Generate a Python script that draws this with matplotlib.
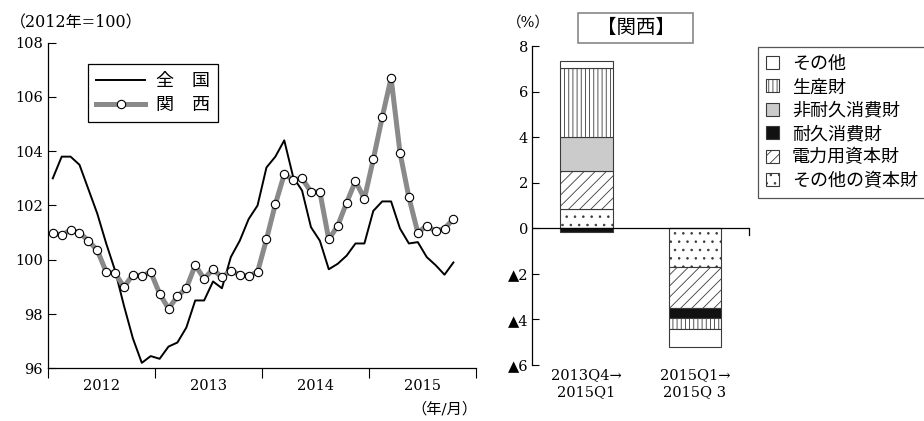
import matplotlib
matplotlib.use("Agg")
import matplotlib.pyplot as plt
from matplotlib.patches import Patch, Rectangle
import numpy as np

# 鉱工業生産指数（2012年=100, 月次 2012/1〜2015/10）
national = [103.0, 103.8, 103.8, 103.5, 102.6, 101.7, 100.6, 99.6, 98.3, 97.1,
            96.2, 96.45, 96.35, 96.8, 96.95, 97.5, 98.5, 98.5, 99.2, 98.95,
            100.1, 100.7, 101.5, 102.0, 103.4, 103.8, 104.4, 103.05, 102.55, 101.2,
            100.7, 99.65, 99.85, 100.15, 100.6, 100.6, 101.8, 102.15, 102.15, 101.15,
            100.6, 100.65, 100.1, 99.8, 99.45, 99.9]
kansai = [101.0, 100.9, 101.1, 101.0, 100.7, 100.35, 99.55, 99.5, 99.0, 99.45,
          99.4, 99.55, 98.75, 98.2, 98.65, 98.95, 99.8, 99.3, 99.65, 99.35,
          99.6, 99.45, 99.4, 99.55, 100.75, 102.05, 103.15, 102.95, 103.0, 102.5,
          102.5, 100.75, 101.25, 102.1, 102.9, 102.25, 103.7, 105.25, 106.7, 103.95,
          102.3, 101.0, 101.25, 101.05, 101.15, 101.5]
years = ["2012", "2013", "2014", "2015"]

# 関西の生産変化率の財別寄与度（%）
periods = ["2013Q4→\n2015Q1", "2015Q1→\n2015Q 3"]
goods = ["その他の資本財", "電力用資本財", "耐久消費財", "非耐久消費財", "生産財", "その他"]
contrib = {
    "その他の資本財": [0.85, -1.68],
    "電力用資本財": [1.66, -1.83],
    "耐久消費財": [-0.15, -0.44],
    "非耐久消費財": [1.48, 0.0],
    "生産財": [3.05, -0.48],
    "その他": [0.31, -0.76],
}
styles = {
    "その他の資本財": dict(color="white", hatch=".."),
    "電力用資本財": dict(color="white", hatch="///"),
    "耐久消費財": dict(color="#111111", hatch=None),
    "非耐久消費財": dict(color="#cbcbcb", hatch=None),
    "生産財": dict(color="white", hatch="||||"),
    "その他": dict(color="white", hatch=None),
}
legend_order = ["その他", "生産財", "非耐久消費財", "耐久消費財", "電力用資本財", "その他の資本財"]

plt.rcParams["font.family"] = ["DejaVu Serif", "Noto Sans CJK JP", "DejaVu Sans"]
plt.rcParams["font.size"] = 10.5
plt.rcParams["hatch.linewidth"] = 0.6

fig = plt.figure(figsize=(9.24, 4.21), dpi=100)

# ---- 左：指数の推移 ----
ax = fig.add_axes([0.0523, 0.1252, 0.4625, 0.7734])
x = np.arange(len(national))
ax.plot(x, national, color="black", lw=1.4, label="全　国")
ax.plot(x, kansai, color="#8a8a8a", lw=3.6, marker="o", markersize=6,
        markerfacecolor="white", markeredgecolor="black", markeredgewidth=0.8,
        label="関　西")
ax.set_xlim(-0.5, 47.5)
ax.set_ylim(96, 108)
ax.set_yticks([96, 98, 100, 102, 104, 106, 108])
ax.set_xticks([-0.5, 11.5, 23.5, 35.5, 47.5])
ax.set_xticklabels([])
ax.set_xticks([5.5, 17.5, 29.5, 41.5], minor=True)
ax.set_xticklabels(years, minor=True)
ax.tick_params(axis="x", which="major", direction="out", length=7, width=0.8)
ax.tick_params(axis="x", which="minor", length=0, pad=8)
ax.tick_params(axis="y", direction="in", length=6, width=0.8, pad=4)
for s in ["top", "right"]:
    ax.spines[s].set_visible(False)
for s in ["left", "bottom"]:
    ax.spines[s].set_linewidth(0.9)
leg = ax.legend(loc="upper left", bbox_to_anchor=(0.0936, 0.9337), borderaxespad=0,
                fancybox=False, edgecolor="black", framealpha=1, handlelength=2.7,
                handletextpad=0.6, borderpad=0.45, labelspacing=0.32, fontsize=13)
leg.get_frame().set_linewidth(0.9)
fig.text(0.011, 0.945, "（2012年=100）", ha="left", va="center", fontsize=11.5)
fig.text(0.517, 0.028, "（年/月）", ha="right", va="center", fontsize=11)

# ---- 右：財別寄与度 ----
ax2 = fig.add_axes([0.5761, 0.1330, 0.2348, 0.7577])
pos = np.arange(1, len(periods) + 1)
up = np.zeros(len(periods))
down = np.zeros(len(periods))
for g in goods:
    vals = np.array(contrib[g])
    base = np.where(vals >= 0, up, down)
    ax2.bar(pos, vals, bottom=base, width=0.485, facecolor=styles[g]["color"],
            hatch=styles[g]["hatch"], edgecolor="#3a3a3a", linewidth=0.8, zorder=2)
    up = up + np.where(vals >= 0, vals, 0)
    down = down + np.where(vals < 0, vals, 0)
ax2.axhline(0, color="black", lw=0.9, zorder=3)
ax2.set_xlim(0.5, 2.5)
ax2.set_ylim(-6, 8)
ax2.set_yticks([-6, -4, -2, 0, 2, 4, 6, 8])
ax2.set_yticklabels(["▲6", "▲4", "▲2", "0", "2", "4", "6", "8"])
ax2.tick_params(axis="y", direction="in", length=5, width=0.8, pad=3)
ax2.set_xticks(pos)
ax2.set_xticklabels(periods, linespacing=1.3)
ax2.tick_params(axis="x", length=0, pad=2)
for s in ["top", "bottom"]:
    ax2.spines[s].set_visible(False)
ax2.spines["left"].set_linewidth(0.9)
ax2.spines["right"].set_bounds(-0.3, 0)
ax2.spines["right"].set_linewidth(0.9)
ax2.tick_params(axis="y", right=False)
fig.text(0.572, 0.947, "（%）", ha="center", va="center", fontsize=10.5)

# 見出しボックス
fig.patches.append(Rectangle((578.3 / 924, 1 - 42.7 / 421), 114.4 / 924, 30 / 421,
                             transform=fig.transFigure, facecolor="white",
                             edgecolor="#888888", lw=1.2))
fig.text(635.5 / 924, 1 - 27.7 / 421, "【関西】", ha="center", va="center", fontsize=14)

handles = [Patch(facecolor=styles[g]["color"], hatch=styles[g]["hatch"],
                 edgecolor="#3a3a3a", linewidth=0.8, label=g) for g in legend_order]
leg2 = fig.legend(handles=handles, loc="upper left", bbox_to_anchor=(0.8207, 0.8891),
                  fancybox=False, edgecolor="#555555", framealpha=1, handlelength=0.72,
                  handleheight=0.72, handletextpad=0.7, borderpad=0.45,
                  labelspacing=0.3, borderaxespad=0, fontsize=13)
leg2.get_frame().set_linewidth(0.9)

fig.savefig("out.png", dpi=100)
